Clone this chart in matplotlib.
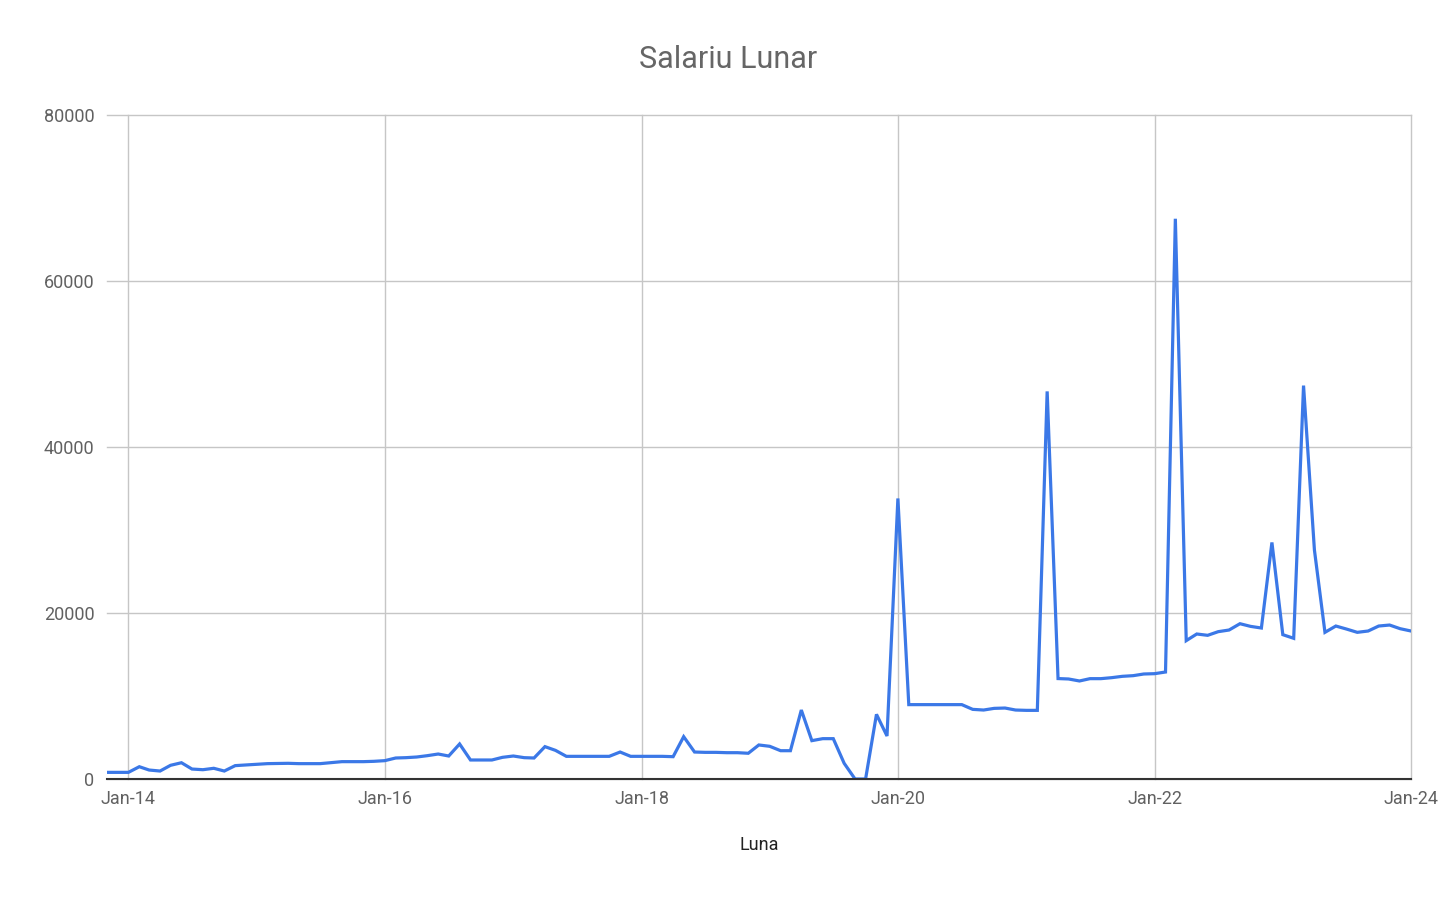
import matplotlib
matplotlib.use("Agg")
import matplotlib.pyplot as plt
import matplotlib.dates as mdates
import pandas as pd

plt.rcParams['font.family'] = ['Roboto', 'DejaVu Sans']

# Monthly salary values (Nov 2013 .. Jan 2024)
v2013 = [800, 800]
v2014 = [800, 1480, 1080, 960, 1650, 1960, 1200, 1120, 1290, 960, 1610, 1690]
v2015 = [1770, 1850, 1870, 1890, 1850, 1850, 1850, 1970, 2090, 2090, 2090, 2130]
v2016 = [2210, 2530, 2570, 2650, 2810, 3010, 2770, 4220, 2290, 2290, 2290, 2610]
v2017 = [2770, 2570, 2530, 3900, 3450, 2730, 2730, 2730, 2730, 2730, 3250, 2730]
v2018 = [2730, 2730, 2730, 2690, 5100, 3250, 3210, 3210, 3170, 3170, 3100, 4100]
v2019 = [3940, 3410, 3410, 8310, 4620, 4860, 4860, 1890, 0, 0, 7790, 5180]
v2020 = [33800, 8960, 8960, 8960, 8960, 8960, 8960, 8390, 8310, 8510, 8550, 8310]
v2021 = [8270, 8270, 46700, 12100, 12050, 11810, 12090, 12090, 12210, 12370, 12450, 12650]
v2022 = [12690, 12890, 67500, 16670, 17470, 17310, 17750, 17950, 18710, 18390, 18190, 28500]
v2023 = [17390, 16950, 47400, 27590, 17670, 18430, 18070, 17670, 17830, 18430, 18550, 18110]
v2024 = [17830]

salary = v2013 + v2014 + v2015 + v2016 + v2017 + v2018 + v2019 + v2020 + v2021 + v2022 + v2023 + v2024
months = pd.date_range("2013-11-01", periods=len(salary), freq="MS")

title = "Salariu Lunar"
xlabel = "Luna"
y_ticks = [0, 20000, 40000, 60000, 80000]
x_tick_years = [2014, 2016, 2018, 2020, 2022, 2024]

fig = plt.figure(figsize=(14.56, 9.0), dpi=100)
ax = fig.add_axes([107/1456, 1 - 779/900, (1411 - 107)/1456, (779 - 115)/900])

ax.plot(months, salary, color="#3b78e7", linewidth=2.3, solid_joinstyle="miter", zorder=3)

ax.set_xlim(months[0], pd.Timestamp("2024-01-01"))
ax.set_ylim(0, 80000)

xt = [pd.Timestamp(f"{y}-01-01") for y in x_tick_years]
ax.set_xticks(xt)
ax.xaxis.set_major_formatter(mdates.DateFormatter("%b-%y"))
ax.set_yticks(y_ticks)
ax.set_yticklabels([str(v) for v in y_ticks])

ax.grid(True, color="#c6c6c6", linewidth=1.0, zorder=0)
for gl in ax.get_xgridlines() + ax.get_ygridlines():
    gl.set_clip_on(False)
for s in ["top", "right", "left"]:
    ax.spines[s].set_visible(False)
ax.spines["bottom"].set_color("#333333")
ax.spines["bottom"].set_linewidth(1.5)
ax.spines["bottom"].set_zorder(4)

ax.tick_params(axis="both", length=0, labelsize=13, labelcolor="#616161")
ax.tick_params(axis="x", pad=8)
ax.tick_params(axis="y", pad=9)

fig.text(728/1456, 1 - 60/900, title, ha="center", va="center", fontsize=22, color="#666666")
fig.text(759/1456, 1 - 845/900, xlabel, ha="center", va="center", fontsize=13, color="#222222")

fig.savefig("out.png", dpi=100, facecolor="white")
